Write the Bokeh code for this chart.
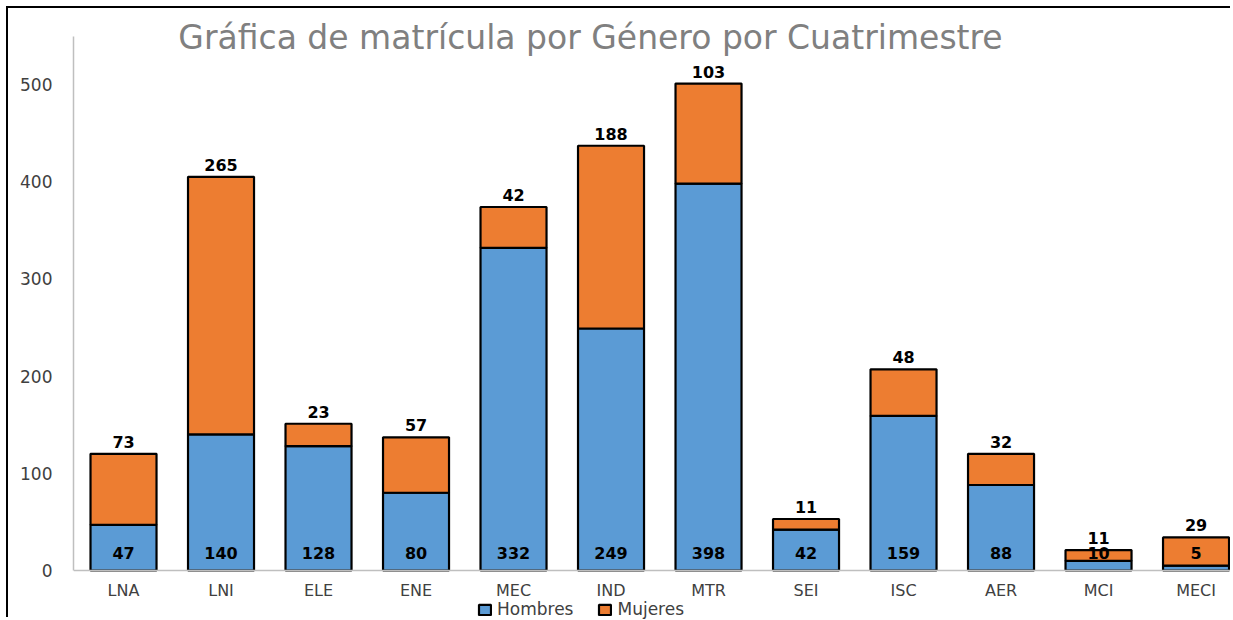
from bokeh.plotting import figure
from bokeh.models import (ColumnDataSource, Range1d, FixedTicker, Legend, LegendItem,
                          LabelSet, Label)
from bokeh.core.properties import value
from bokeh.embed import file_html
from bokeh.resources import INLINE

# ---- data ----
carreras = ["LNA", "LNI", "ELE", "ENE", "MEC", "IND", "MTR", "SEI", "ISC", "AER", "MCI", "MECI"]
hombres = [47, 140, 128, 80, 332, 249, 398, 42, 159, 88, 10, 5]
mujeres = [73, 265, 23, 57, 42, 188, 103, 11, 48, 32, 11, 29]
y_ticks = [0, 100, 200, 300, 400, 500]
titulo = "Gráfica de matrícula por Género por Cuatrimestre"
series = ["Hombres", "Mujeres"]

FONT = "DejaVu Sans"
BLUE = "#5B9BD5"
ORANGE = "#ED7D31"

n = len(carreras)
xs = list(range(n))
total = [h + m for h, m in zip(hombres, mujeres)]
src = ColumnDataSource(dict(
    x=xs,
    h=hombres,
    m=mujeres,
    total=total,
    zero=[0] * n,
    h_lab=[str(v) for v in hombres],
    m_lab=[str(v) for v in mujeres],
    h_lab_y=[18] * n,
))

p = figure(width=1224, height=611, output_backend="svg", toolbar_location=None,
           x_range=Range1d(-0.513, 11.374), y_range=Range1d(-50.4, 578.2),
           min_border_left=65, min_border_right=0, min_border_top=0, min_border_bottom=0)
p.styles = {"margin-left": "6px", "margin-top": "6px",
            "border-left": "2px solid black", "border-top": "2px solid black"}
p.outline_line_color = None
p.background_fill_color = "white"
p.border_fill_color = "white"
p.xgrid.visible = False
p.ygrid.visible = False

rh = p.vbar(x="x", width=0.677, bottom="zero", top="h", source=src,
            fill_color=BLUE, line_color="black", line_width=2.2)
rm = p.vbar(x="x", width=0.677, bottom="h", top="total", source=src,
            fill_color=ORANGE, line_color="black", line_width=2.2)

# axes
p.yaxis.ticker = FixedTicker(ticks=y_ticks)
p.yaxis.bounds = (0, 549)
p.yaxis.axis_line_color = "#bfbfbf"
p.yaxis.axis_line_width = 1.5
p.yaxis.major_tick_line_color = None
p.yaxis.minor_tick_line_color = None
p.yaxis.major_tick_out = 0
p.yaxis.major_label_standoff = 21
p.yaxis.major_label_text_font = FONT
p.yaxis.major_label_text_font_size = "17px"
p.yaxis.major_label_text_color = "#404040"

p.xaxis.fixed_location = 0
p.xaxis.ticker = FixedTicker(ticks=xs)
p.xaxis.major_label_overrides = {i: c for i, c in enumerate(carreras)}
p.xaxis.axis_line_color = "#bfbfbf"
p.xaxis.axis_line_width = 1.5
p.xaxis.major_tick_line_color = None
p.xaxis.minor_tick_line_color = None
p.xaxis.major_tick_in = 0
p.xaxis.major_tick_out = 0
p.xaxis.major_label_standoff = 10
p.xaxis.major_label_text_font = FONT
p.xaxis.major_label_text_font_size = "16px"
p.xaxis.major_label_text_color = "#404040"

# data labels
lab_h = LabelSet(x="x", y="h_lab_y", text="h_lab", source=src, text_align="center",
                 text_baseline="middle", text_font=value(FONT), text_font_size=value("16px"),
                 text_font_style="bold", text_color="black")
lab_m = LabelSet(x="x", y="total", text="m_lab", source=src, text_align="center",
                 text_baseline="middle", y_offset=12, text_font=value(FONT),
                 text_font_size=value("16px"), text_font_style="bold", text_color="black")
p.add_layout(lab_h)
p.add_layout(lab_m)

# title
p.add_layout(Label(x=517, y=582, x_units="screen", y_units="screen", text=titulo,
                   text_align="center", text_baseline="alphabetic", text_font=FONT,
                   text_font_size="33px", text_color="#808080"))

# legend
legend = Legend(items=[LegendItem(label=series[0], renderers=[rh]),
                       LegendItem(label=series[1], renderers=[rm])],
                location=(404, 0), orientation="horizontal",
                border_line_color=None, background_fill_alpha=0,
                padding=0, margin=0, spacing=24, label_standoff=5,
                glyph_width=15, glyph_height=13,
                label_text_font=FONT, label_text_font_size="17px",
                label_text_color="#404040")
p.add_layout(legend)

open("out.html", "w").write(file_html(p, INLINE))
